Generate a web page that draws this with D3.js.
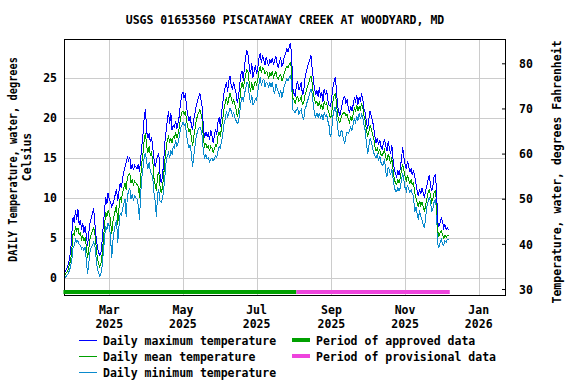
<!DOCTYPE html>
<html><head><meta charset="utf-8">
<script src="https://cdn.jsdelivr.net/npm/d3@7"></script>
<style>
body{margin:0;background:#fff}
text{font-family:"DejaVu Sans Mono",monospace;font-weight:bold;font-size:11.5px;fill:#000}
</style>
</head><body><svg id="c" width="576" height="384"></svg>
<script>
const chartTitle = "USGS 01653560 PISCATAWAY CREEK AT WOODYARD, MD";
const firstDay = "2025-01-23";
const maxTemp = [
0.6,0.9,1.2,1.6,2.4,3.2,5.5,7.6,6.8,8.4,
7.2,8.6,6.6,7.2,6.0,6.8,5.6,6.4,5.2,4.0,
5.6,6.8,7.4,8.0,8.7,6.8,5.2,4.0,3.2,2.8,
3.0,4.5,6.5,8.2,10.0,9.2,10.6,9.8,9.4,8.8,
9.2,9.8,10.4,11.0,9.6,10.8,11.8,11.2,12.4,13.2,
13.8,14.4,15.0,14.6,15.1,13.6,14.2,13.4,14.0,13.8,
13.6,14.2,13.2,14.8,16.5,18.0,20.2,21.0,18.2,17.4,
18.0,16.9,17.6,16.2,14.8,13.8,14.6,15.2,15.5,13.0,
11.8,12.6,14.4,16.8,18.2,19.6,20.8,19.2,20.6,18.4,
19.0,18.8,19.6,18.6,19.4,20.2,21.8,22.8,23.2,22.4,
23.0,21.2,20.4,19.6,20.2,19.0,18.4,19.8,20.6,21.4,
22.0,22.6,23.0,22.2,21.2,18.6,17.4,18.2,17.6,18.0,
17.2,18.4,17.8,16.8,17.6,18.6,17.8,19.4,20.0,18.8,
20.6,21.8,23.0,23.8,24.4,23.2,24.6,25.2,24.0,23.6,
24.4,23.6,23.0,21.8,22.6,24.0,25.4,25.8,24.6,26.4,
27.6,28.4,27.8,26.2,25.4,26.8,25.0,25.8,26.6,25.4,
26.2,27.4,28.0,26.8,27.8,27.2,26.6,27.6,27.0,26.4,
27.2,26.8,27.4,26.6,27.2,27.6,26.8,26.2,27.0,27.4,
26.4,26.8,27.6,28.0,28.6,28.2,28.8,29.3,28.0,23.6,
23.0,22.6,24.0,24.6,23.4,23.8,24.4,22.8,23.2,24.8,
25.6,26.2,26.8,27.2,27.8,26.2,24.8,23.6,22.8,23.4,
22.6,23.8,22.4,23.2,22.0,23.6,22.8,23.4,22.2,21.6,
21.4,22.0,23.6,24.4,25.0,23.8,21.6,20.8,20.2,21.0,
21.8,22.4,22.6,21.8,22.2,21.2,20.6,21.4,20.8,21.6,
22.4,22.0,22.8,21.6,22.6,22.0,23.0,22.2,21.0,20.6,
19.4,18.6,19.8,20.8,20.2,19.6,18.8,17.6,16.8,17.4,
16.6,17.2,16.4,16.0,16.8,17.2,16.4,15.8,17.0,16.2,
15.4,16.6,14.8,13.6,13.0,12.6,13.4,12.8,13.6,14.8,
16.3,15.0,14.2,13.6,14.6,13.8,13.2,13.6,12.8,13.4,
12.6,11.8,10.8,10.2,11.0,10.4,11.2,10.6,10.0,10.8,
11.4,12.2,12.8,11.6,10.8,11.4,12.6,12.8,11.2,7.0,
6.4,6.8,7.4,7.0,6.2,6.6,6.0,6.2,6.0];
const meanTemp = [
0.3,0.5,0.7,1.0,1.6,2.2,3.6,5.6,5.2,6.4,
5.8,6.2,5.4,5.6,4.8,5.2,4.6,5.0,3.8,2.4,
3.6,4.8,5.4,5.8,6.2,5.6,4.0,2.6,1.8,1.3,
1.6,2.8,4.6,6.4,8.2,7.6,8.4,8.0,7.2,5.4,
7.0,7.8,8.4,9.0,6.6,8.6,10.0,9.6,10.6,11.2,
11.8,11.0,12.6,12.8,13.0,11.8,12.2,11.6,12.0,11.8,
11.6,11.4,10.0,12.6,14.4,15.6,17.4,18.0,16.4,15.6,
16.4,15.2,15.6,14.6,12.4,11.6,10.8,12.8,13.2,11.4,
10.6,11.2,12.6,14.6,16.0,17.2,17.6,17.0,17.4,16.8,
17.6,17.4,18.2,17.4,18.0,18.8,20.0,20.6,20.8,20.4,
20.8,19.6,18.8,18.2,18.6,17.4,16.4,17.6,18.6,19.6,
20.2,20.6,21.0,20.4,19.6,17.2,16.4,16.8,16.2,16.4,
15.8,16.4,16.2,15.6,16.0,16.6,16.4,17.6,18.2,17.6,
18.8,19.8,21.0,21.8,22.6,21.6,22.4,23.0,22.4,21.8,
22.2,21.6,21.0,20.2,20.6,22.0,23.6,24.4,23.6,24.6,
25.4,26.0,25.6,24.2,23.2,24.4,23.4,24.0,24.6,24.0,
24.8,25.8,26.4,25.6,26.2,26.0,25.4,25.8,25.6,24.8,
25.6,25.2,25.8,25.0,25.4,25.8,25.0,24.8,25.2,25.4,
24.6,25.0,25.6,26.0,26.4,26.2,26.6,26.8,26.0,22.4,
22.2,21.8,22.4,22.6,22.0,22.2,22.6,21.6,21.8,22.8,
23.2,23.8,24.2,24.8,25.2,24.4,23.0,22.2,21.8,22.0,
21.4,22.0,21.2,21.6,21.0,22.0,21.6,21.8,21.0,20.6,
20.0,20.2,21.8,22.6,23.0,22.2,20.4,19.6,19.4,20.0,
20.4,20.6,20.6,20.2,20.4,19.8,19.4,20.2,19.6,20.4,
21.2,20.8,21.6,20.8,21.4,21.0,21.8,21.2,20.2,19.6,
18.4,17.6,18.2,19.0,18.6,18.0,17.4,16.4,15.8,16.2,
15.6,16.0,15.4,15.2,15.6,16.0,15.0,14.6,15.4,15.0,
14.2,15.0,13.6,12.4,11.8,11.6,12.2,11.8,12.4,13.4,
14.2,13.4,12.6,12.0,12.8,12.2,11.8,12.2,11.6,11.8,
10.6,10.0,9.4,8.8,9.6,9.0,9.4,8.8,8.2,9.0,
9.8,10.6,11.0,10.4,9.4,9.8,10.6,10.8,9.6,5.8,
5.2,5.6,5.8,5.4,4.9,5.3,5.0,5.3,5.2];
const minTemp = [
0.0,0.1,0.3,0.5,0.9,1.4,2.2,3.8,4.0,4.8,
4.4,4.6,4.2,4.0,3.6,3.8,3.4,3.8,2.0,0.5,
1.8,3.2,3.8,4.0,4.4,4.0,2.6,1.2,0.6,0.2,
0.4,1.4,3.0,4.8,6.4,6.0,6.8,6.4,5.2,2.4,
4.6,5.8,6.6,7.2,4.3,6.4,8.0,7.8,8.6,9.2,
9.8,7.6,10.2,10.8,11.2,9.8,10.4,9.6,10.2,10.0,
9.8,9.0,7.2,10.4,12.6,13.8,15.2,15.6,14.4,13.6,
14.4,13.2,13.0,12.4,10.6,9.6,7.6,10.4,11.0,9.6,
9.4,9.8,10.8,12.6,14.4,15.2,15.6,15.0,15.8,15.4,
16.4,16.2,17.2,16.4,16.8,17.6,18.6,19.0,19.4,19.0,
19.2,17.8,16.8,16.2,16.6,15.4,13.8,15.2,16.4,17.6,
18.2,18.6,18.8,18.4,17.6,15.6,15.0,15.4,14.8,15.0,
14.5,14.8,14.9,14.6,14.8,15.2,15.0,15.8,16.4,16.2,
17.0,18.0,19.2,19.8,20.8,20.0,20.6,21.2,20.8,20.2,
20.6,20.0,19.6,19.3,19.4,20.6,21.8,22.6,22.0,23.0,
23.6,24.4,24.2,22.6,21.8,22.8,21.6,21.8,22.4,22.2,
23.2,24.2,25.0,24.0,24.6,24.8,23.8,24.4,24.2,23.8,
24.4,23.8,24.4,23.4,23.0,24.2,23.6,23.2,22.8,23.4,
22.5,23.2,24.0,24.4,24.8,24.6,25.0,25.2,24.4,21.0,
20.8,20.6,21.0,21.2,20.4,20.8,21.0,20.2,19.7,21.0,
21.4,22.0,22.4,23.0,23.6,23.0,21.6,20.4,20.0,20.6,
20.0,20.6,19.8,20.4,19.7,20.6,20.2,20.4,19.6,19.0,
17.6,18.0,20.0,20.8,21.3,20.6,19.0,17.8,17.6,18.4,
18.2,17.2,16.8,17.6,18.2,18.0,18.4,18.8,18.4,19.2,
19.8,19.4,20.2,19.6,20.6,19.8,20.4,20.0,19.0,18.4,
16.8,15.4,16.4,17.4,17.0,16.2,15.6,15.2,15.0,15.4,
14.6,15.2,14.4,14.0,14.2,14.8,13.2,12.6,13.8,13.4,
12.8,13.6,12.4,11.4,10.8,10.7,11.2,10.8,11.2,12.2,
13.0,12.2,11.2,10.8,11.6,11.0,10.6,11.0,10.4,10.2,
8.2,8.8,8.0,7.2,8.4,7.6,7.2,6.6,6.2,7.4,
8.8,9.4,10.0,9.6,8.2,8.6,9.4,9.8,8.6,4.2,
3.8,4.4,4.8,4.2,4.0,4.6,4.4,4.8,4.7];

const monthTicks = ["2025-03-01","2025-05-01","2025-07-01","2025-09-01","2025-11-01","2026-01-01"];
const monthNames = ["Mar","May","Jul","Sep","Nov","Jan"];
const yearNames = ["2025","2025","2025","2025","2025","2026"];
const celsiusTicks = [0,5,10,15,20,25];
const fahrenheitTicks = [30,40,50,60,70,80];
const seriesNames = ["Daily maximum temperature","Daily mean temperature","Daily minimum temperature"];
const periodNames = ["Period of approved data","Period of provisional data"];
const periodStarts = ["2025-01-22","2025-08-03"];
const periodEnds = ["2025-08-03","2025-12-08"];
const leftTitle = ["DAILY Temperature, water, degrees","Celsius"];
const rightTitle = "Temperature, water, degrees Fahrenheit";

const seriesColors = ["#0000ff","#00a000","#0a8acd"];
const periodColors = ["#00a000","#ee44dd"];

const L=64,R=506,T=39,B=296;
const svg = d3.select("#c");
const parse = d3.utcParse("%Y-%m-%d");
const day0 = parse(firstDay);
const dates = maxTemp.map((_,i)=>d3.utcDay.offset(day0,i));

const x = d3.scaleUtc().domain([Date.UTC(2025,0,22,11,30), Date.UTC(2026,0,23,14,30)]).range([L,R]);
const y = d3.scaleLinear().domain([-2.3125, 29.8125]).range([B,T]);
const yF = d3.scaleLinear().domain([30,80]).range([289,63.3]);

// grid
const g = svg.append("g");
g.selectAll(".vg").data(monthTicks).join("line")
  .attr("x1",d=>Math.round(x(parse(d)))+0.5).attr("x2",d=>Math.round(x(parse(d)))+0.5)
  .attr("y1",T).attr("y2",B).attr("stroke","#cccccc").attr("stroke-width",1);
g.selectAll(".hg").data(celsiusTicks).join("line")
  .attr("x1",L).attr("x2",R)
  .attr("y1",d=>Math.round(y(d))+0.5).attr("y2",d=>Math.round(y(d))+0.5)
  .attr("stroke","#cccccc").attr("stroke-width",1);

// series lines
const seriesData = [maxTemp, meanTemp, minTemp];
const line = d3.line().x((d,i)=>x(dates[i])).y(d=>y(d));
[2,1,0].forEach(k=>{
  svg.append("path").datum(seriesData[k]).attr("d",line)
    .attr("fill","none").attr("stroke",seriesColors[k]).attr("stroke-width",1)
    .attr("shape-rendering","crispEdges");
});

// frame
svg.append("rect").attr("x",L+0.5).attr("y",T+0.5).attr("width",R-L-1).attr("height",B-T-1)
  .attr("fill","none").attr("stroke","#000").attr("stroke-width",1);

// period bars
periodNames.forEach((n,i)=>{
  const x0 = Math.max(L-1, x(parse(periodStarts[i])));
  svg.append("rect").attr("x",x0).attr("y",290)
    .attr("width",x(parse(periodEnds[i]))-x0).attr("height",4).attr("fill",periodColors[i]);
});

// left axis
const ax = svg.append("g").attr("transform",`translate(${L},0)`)
  .call(d3.axisLeft(y).tickValues(celsiusTicks).tickSize(0).tickPadding(7).tickFormat(d3.format("d")));
ax.select(".domain").remove();
ax.selectAll("text").attr("font-size",null).attr("font-family",null).attr("dy","0.36em");

// right axis
const axR = svg.append("g").attr("transform",`translate(${R},0)`)
  .call(d3.axisRight(yF).tickValues(fahrenheitTicks).tickSizeInner(-4).tickSizeOuter(0).tickPadding(13).tickFormat(d3.format("d")));
axR.select(".domain").remove();
axR.selectAll("line").attr("stroke","#000");
axR.selectAll("text").attr("font-size",null).attr("font-family",null).attr("dy","0.36em");

// bottom labels
const bx = svg.append("g");
monthTicks.forEach((d,i)=>{
  const t = bx.append("text").attr("text-anchor","middle");
  t.append("tspan").attr("x",x(parse(d))).attr("y",314).text(monthNames[i]);
  t.append("tspan").attr("x",x(parse(d))).attr("y",328).text(yearNames[i]);
});

// title
svg.append("text").attr("x",(L+R)/2).attr("y",24).attr("text-anchor","middle").text(chartTitle);

// axis titles
svg.append("text").attr("transform","translate(16.5,159.5) rotate(-90)").attr("text-anchor","middle")
  .attr("textLength",205).attr("lengthAdjust","spacingAndGlyphs").text(leftTitle[0]);
svg.append("text").attr("transform","translate(30.5,157) rotate(-90)").attr("text-anchor","middle").text(leftTitle[1]);
svg.append("text").attr("transform","translate(561,172) rotate(-90)").attr("text-anchor","middle").text(rightTitle);

// legend
seriesNames.forEach((n,i)=>{
  const yy = 340.5 + i*16;
  svg.append("line").attr("x1",79).attr("x2",97).attr("y1",yy).attr("y2",yy)
    .attr("stroke",seriesColors[i]).attr("stroke-width",1);
  svg.append("text").attr("x",103).attr("y",345+i*16).text(n);
});
periodNames.forEach((n,i)=>{
  svg.append("rect").attr("x",292).attr("y",338+i*16).attr("width",18).attr("height",4).attr("fill",periodColors[i]);
  svg.append("text").attr("x",316).attr("y",345+i*16).text(n);
});
</script>
</body></html>
